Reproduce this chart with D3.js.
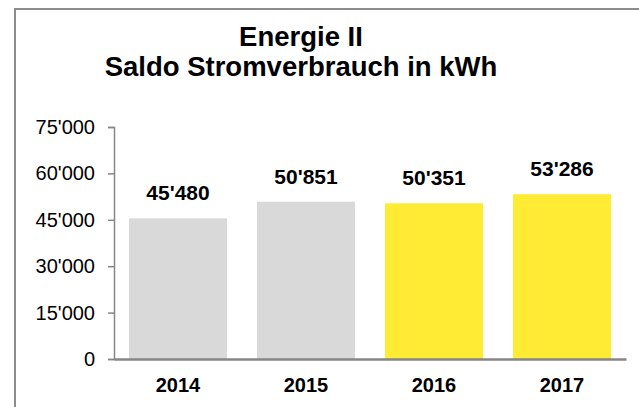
<!DOCTYPE html>
<html>
<head>
<meta charset="utf-8">
<script src="https://cdn.jsdelivr.net/npm/d3@7"></script>
<style>
  body { margin: 0; background: #fff; }
  text { font-family: "Liberation Sans", Arial, sans-serif; }
</style>
</head>
<body>
<div id="chart"></div>
<script>
//Chart data
const years = ["2014", "2015", "2016", "2017"];
const values = [45480, 50851, 50351, 53286];
const barColors = ["#d9d9d9", "#d9d9d9", "#ffeb33", "#ffeb33"];
const yTicks = [0, 15000, 30000, 45000, 60000, 75000];
const titleLines = ["Energie II", "Saldo Stromverbrauch in kWh"];

const w = 639;
const h = 407;
const svg = d3.select("#chart").append("svg")
    .attr("width", w)
    .attr("height", h);

//Outer frame, runs off the right and bottom edge
svg.append("rect")
    .attr("x", 15).attr("y", 9)
    .attr("width", 700).attr("height", 500)
    .attr("fill", "none")
    .attr("stroke", "#8c8c8c")
    .attr("stroke-width", 2);

//Title
svg.append("text")
    .attr("text-anchor", "middle")
    .attr("font-weight", "bold")
    .attr("font-size", 27.5)
    .attr("fill", "#000")
    .selectAll("tspan")
    .data(titleLines)
    .join("tspan")
    .attr("x", 301)
    .attr("y", (d, i) => 46 + i * 30)
    .text(d => d);

//Plot area
const plotLeft = 114, plotRight = 626, plotTop = 127, plotBottom = 359;

const x = d3.scaleBand()
    .domain(years)
    .range([plotLeft, plotRight])
    .paddingInner(0.234)
    .paddingOuter(0.117);

const y = d3.scaleLinear()
    .domain([0, 75000])
    .range([plotBottom, plotTop]);

const fmt = v => d3.format(",")(v).replace(/,/g, "'");

//Bars
svg.selectAll(".bar")
    .data(values)
    .join("rect")
    .attr("class", "bar")
    .attr("x", (d, i) => x(years[i]))
    .attr("y", d => y(d))
    .attr("width", x.bandwidth())
    .attr("height", d => plotBottom - y(d))
    .attr("fill", (d, i) => barColors[i]);

//Value labels
svg.selectAll(".val")
    .data(values)
    .join("text")
    .attr("class", "val")
    .attr("x", (d, i) => x(years[i]) + x.bandwidth() / 2)
    .attr("y", d => y(d) - 18)
    .attr("text-anchor", "middle")
    .attr("font-weight", "bold")
    .attr("font-size", 21)
    .text(fmt);

//Y axis
const yAxis = svg.append("g")
    .attr("transform", "translate(" + plotLeft + ",0)")
    .call(d3.axisLeft(y).tickValues(yTicks).tickSize(6).tickPadding(13).tickFormat(fmt));
yAxis.select(".domain").attr("stroke", "#868686").attr("stroke-width", 1.5);
yAxis.selectAll(".tick line").attr("stroke", "#868686").attr("stroke-width", 1.5);
yAxis.selectAll(".tick text")
    .attr("font-family", "Liberation Sans, Arial, sans-serif")
    .attr("font-size", 20)
    .attr("fill", "#000");

//X axis
const xAxis = svg.append("g")
    .attr("transform", "translate(0," + plotBottom + ")")
    .call(d3.axisBottom(x).tickSize(0).tickPadding(19));
xAxis.select(".domain").attr("stroke", "#868686").attr("stroke-width", 2.5);
xAxis.selectAll(".tick text")
    .attr("font-family", "Liberation Sans, Arial, sans-serif")
    .attr("font-weight", "bold")
    .attr("font-size", 20)
    .attr("fill", "#000")
    .attr("dy", "0.71em");
</script>
</body>
</html>
